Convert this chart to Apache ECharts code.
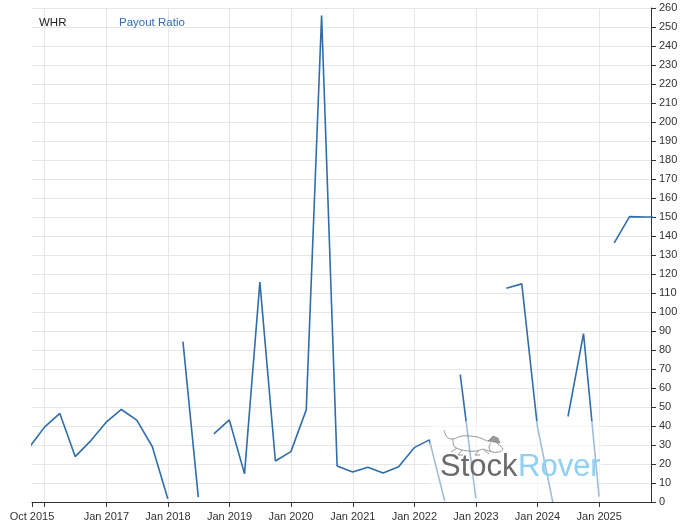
<!DOCTYPE html>
<html>
<head>
<meta charset="utf-8">
<style>
  html, body { margin: 0; padding: 0; background: #ffffff; }
  #chart { width: 696px; height: 530px; }
</style>
<script src="https://cdn.jsdelivr.net/npm/echarts@6/dist/echarts.min.js"></script>
</head>
<body>
<div id="chart"></div>
<script>
// ---- data (quarter-end dates; null = break in the line) ----
const dates = [
  '2015-09-30','2015-12-31','2016-03-31','2016-06-30','2016-09-30','2016-12-31',
  '2017-03-31','2017-06-30','2017-09-30','2017-12-31','2018-02-14',
  '2018-03-31','2018-06-30','2018-08-15',
  '2018-09-30','2018-12-31','2019-03-31','2019-06-30','2019-09-30','2019-12-31',
  '2020-03-31','2020-06-30','2020-09-30','2020-12-31','2021-03-31','2021-06-30',
  '2021-09-30','2021-12-31','2022-03-31','2022-06-30','2022-08-15',
  '2022-09-30','2022-12-31','2023-03-31',
  '2023-06-30','2023-09-30','2023-12-31','2024-03-31','2024-05-15',
  '2024-06-30','2024-09-30','2024-12-31','2025-02-14',
  '2025-03-31','2025-06-30','2025-09-30','2025-12-31'
];
const payoutRatio = [
  28.5, 39.4, 46.6, 23.9, 32.2, 42.0,
  48.7, 43.1, 29.2, 1.7, null,
  84.4, 2.6, null,
  35.9, 43.2, 14.8, 115.7, 21.6, 26.5,
  48.5, 256, 19.0, 15.8, 18.3, 15.3,
  18.6, 28.6, 32.7, 0.5, null,
  67, 2, null,
  112.5, 114.8, 40, 0.2, null,
  45, 88.6, 2.8, null,
  136.4, 150.2, 150, 150
];
const xTickLabels = ['Oct 2015','Jan 2017','Jan 2018','Jan 2019','Jan 2020','Jan 2021','Jan 2022','Jan 2023','Jan 2024','Jan 2025'];
const xRange = ['2015-10-18', '2025-11-04'];
const yMin = 0, yMax = 260, yStep = 10;

const MONTHS = ['Jan','Feb','Mar','Apr','May','Jun','Jul','Aug','Sep','Oct','Nov','Dec'];
function ts(s) { const p = s.split('-').map(Number); return Date.UTC(p[0], p[1]-1, p[2]); }
function fmt(v) { const d = new Date(v); return MONTHS[d.getUTCMonth()] + ' ' + d.getUTCFullYear(); }

const seriesData = dates.map((d, i) => [ts(d), payoutRatio[i] === null ? '-' : payoutRatio[i]]);

const chart = echarts.init(document.getElementById('chart'), null, { renderer: 'canvas' });
const FONT = 'Liberation Sans, Arial, Helvetica, sans-serif';
const dogStroke = { stroke: '#8a8a8a', lineWidth: 0.9, fill: null };
function dogLine(pts, smooth) {
  return { type: 'polyline', z: 101, silent: true, shape: { points: pts, smooth: smooth || 0 }, style: dogStroke };
}
chart.setOption({
  useUTC: true,
  animation: false,
  backgroundColor: '#ffffff',
  textStyle: { fontFamily: FONT },
  title: [
    { text: 'WHR', left: 34, top: 12, textStyle: { fontSize: 11.5, fontWeight: 'normal', color: '#222222', fontFamily: FONT } },
    { text: 'Payout Ratio', left: 114, top: 12, textStyle: { fontSize: 11.5, fontWeight: 'normal', color: '#2f6db0', fontFamily: FONT } }
  ],
  grid: { left: 32, right: 45, top: 8, bottom: 28, containLabel: false },
  xAxis: {
    type: 'time',
    min: ts(xRange[0]),
    max: ts(xRange[1]),
    splitNumber: 10,
    minInterval: 365 * 86400000,
    maxInterval: 366 * 86400000,
    axisLine: { show: true, lineStyle: { color: '#333333', width: 1 } },
    axisTick: { show: true, length: 5, lineStyle: { color: '#333333' } },
    axisLabel: {
      color: '#333333', fontSize: 11, margin: 9, fontFamily: FONT,
      hideOverlap: false, showMinLabel: true, showMaxLabel: false,
      formatter: function (v) { const l = fmt(v); return xTickLabels.indexOf(l) >= 0 ? l : ''; }
    },
    splitLine: { show: true, showMinLine: false, showMaxLine: false, lineStyle: { color: '#e6e6e6', width: 1 } }
  },
  yAxis: {
    type: 'value',
    position: 'right',
    min: yMin, max: yMax, interval: yStep,
    axisLine: { show: true, lineStyle: { color: '#333333', width: 1 } },
    axisTick: { show: true, length: 5, lineStyle: { color: '#333333' } },
    axisLabel: { color: '#333333', fontSize: 11, margin: 8, fontFamily: FONT },
    splitLine: { show: true, lineStyle: { color: '#e6e6e6', width: 1 } }
  },
  series: [{
    name: 'Payout Ratio',
    type: 'line',
    data: seriesData,
    showSymbol: false,
    symbol: 'none',
    connectNulls: false,
    clip: true,
    lineStyle: { color: '#2f6dab', width: 1.6 },
    itemStyle: { color: '#2f6dab' },
    z: 2
  }],
  graphic: [
    { type: 'rect', z: 100, shape: { x: 430, y: 421, width: 172, height: 80 }, style: { fill: 'rgba(255,255,255,0.55)' }, silent: true },
    dogLine([[444,430],[447,437],[453,439],[462,436],[477,437],[487,441]], 0.4),
    dogLine([[453,439],[454,446],[459,449],[468,451],[476,451],[483,449]], 0.4),
    dogLine([[487,441],[493,440],[498,444],[503,449],[499,452],[493,452],[483,449]], 0.3),
    dogLine([[491,443],[489,447],[491,452]], 0.4),
    dogLine([[457,448],[451,452]]),
    dogLine([[462,450],[458,455],[463,455]]),
    dogLine([[479,450],[475,455],[480,455]]),
    dogLine([[484,450],[489,454]]),
    { type: 'polygon', z: 101, silent: true, shape: { points: [[488,441],[493,436],[498,438],[500,443]] }, style: { fill: '#9a9a9a', stroke: '#7a7a7a', lineWidth: 0.6 } },
    { type: 'text', z: 101, left: 440, top: 452, style: { text: 'Stock', fill: '#6b6b6b', font: '31px ' + FONT }, silent: true },
    { type: 'text', z: 101, left: 518, top: 452, style: { text: 'Rover', fill: '#8fd0f5', font: '31px ' + FONT }, silent: true }
  ]
});
</script>
</body>
</html>
